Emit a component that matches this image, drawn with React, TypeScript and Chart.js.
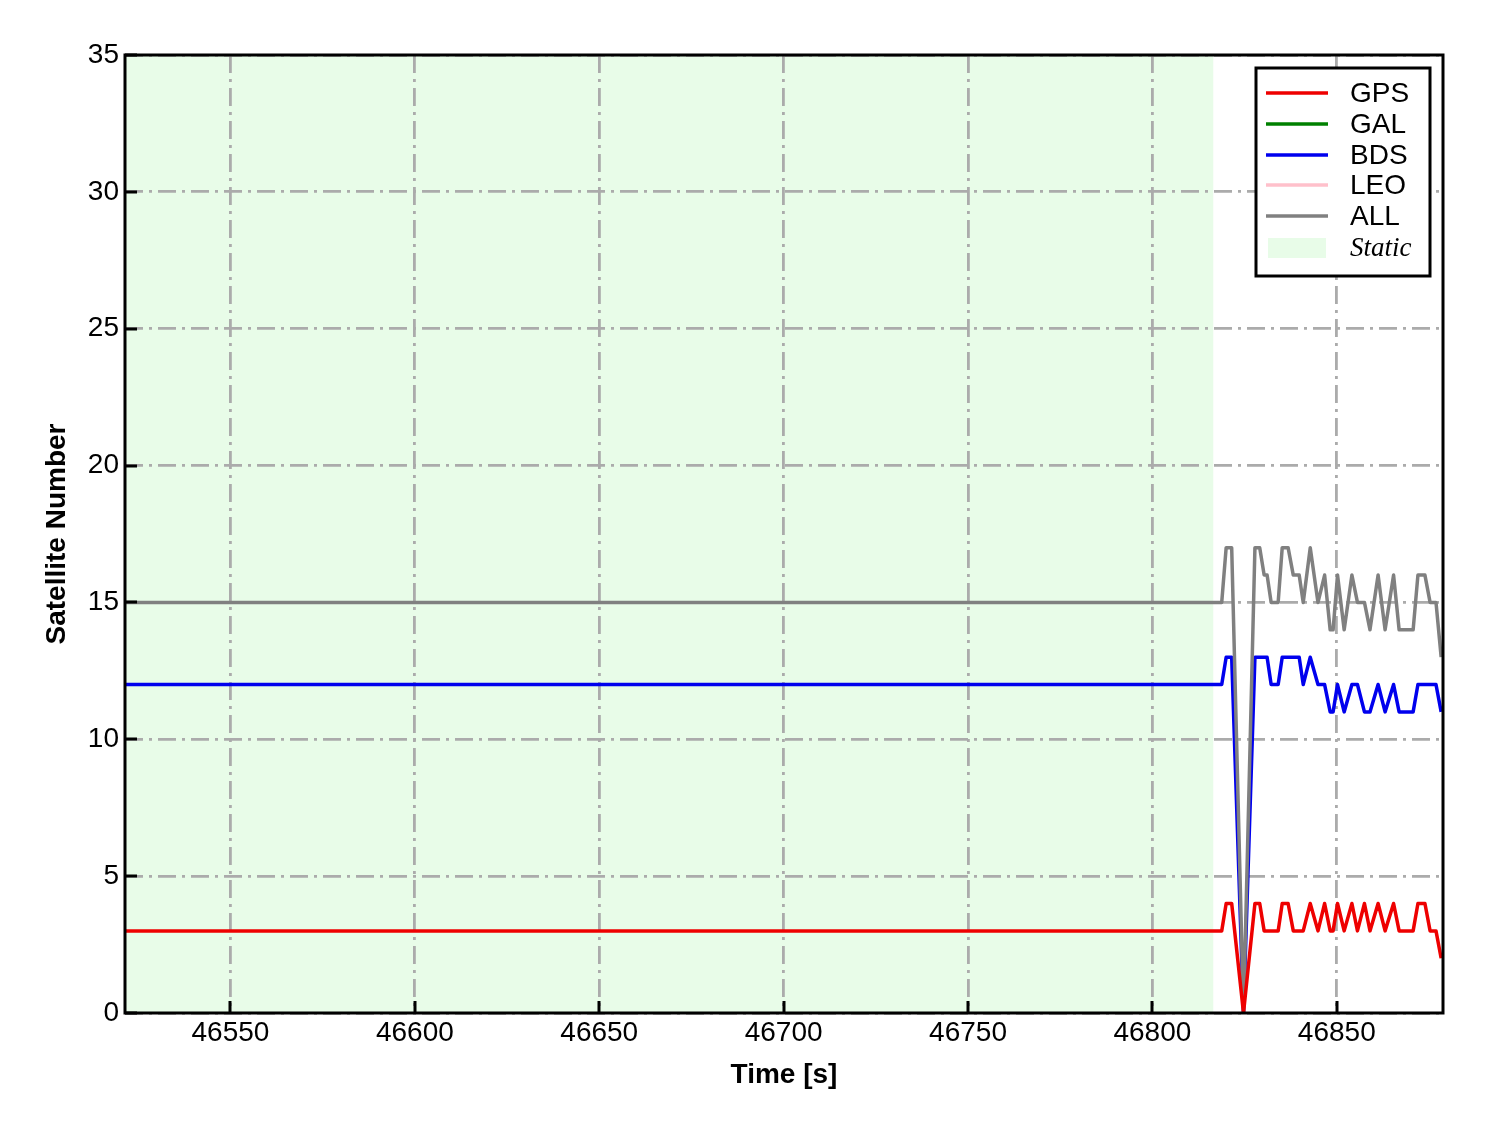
import React, { useEffect, useRef } from "react";
import { Chart, registerables } from "chart.js";

Chart.register(...registerables);

// ---- axis / tick data ----
const X_MIN = 46521.4;
const X_MAX = 46878.8;
const X_TICKS = [46550, 46600, 46650, 46700, 46750, 46800, 46850];
const Y_MIN = 0;
const Y_MAX = 35;
const Y_TICKS = [0, 5, 10, 15, 20, 25, 30, 35];

// ---- static period ----
const STATIC_START = 46521.4;
const STATIC_END = 46816.5;

// ---- series (time [s] and satellite counts) ----
const TIMES = [
  46521.4, 46818.8, 46820.0, 46821.5, 46824.7, 46827.8, 46829.1, 46830.3, 46831.1,
  46832.2, 46834.1, 46835.2, 46836.8, 46838.2, 46839.8, 46840.9, 46842.8, 46844.9,
  46846.7, 46848.2, 46849.0, 46850.2, 46852.0, 46854.1, 46855.6, 46857.5, 46859.0,
  46861.2, 46863.1, 46865.4, 46866.9, 46870.7, 46872.0, 46873.9, 46875.3, 46876.9,
  46878.3,
];
const GPS_VALUES = [
  3, 3, 4, 4, 0, 4, 4, 3, 3,
  3, 3, 4, 4, 3, 3, 3, 4, 3,
  4, 3, 3, 4, 3, 4, 3, 4, 3,
  4, 3, 4, 3, 3, 4, 4, 3, 3,
  2,
];
const GAL_VALUES: number[] = [];
const BDS_VALUES = [
  12, 12, 13, 13, 0, 13, 13, 13, 13,
  12, 12, 13, 13, 13, 13, 12, 13, 12,
  12, 11, 11, 12, 11, 12, 12, 11, 11,
  12, 11, 12, 11, 11, 12, 12, 12, 12,
  11,
];
const LEO_VALUES: number[] = [];
const ALL_VALUES = [
  15, 15, 17, 17, 0, 17, 17, 16, 16,
  15, 15, 17, 17, 16, 16, 15, 17, 15,
  16, 14, 14, 16, 14, 16, 15, 15, 14,
  16, 14, 16, 14, 14, 16, 16, 15, 15,
  13,
];

const SERIES_NAMES = ["GPS", "GAL", "BDS", "LEO", "ALL"];
const SERIES_COLORS = ["#ee0000", "#008000", "#0000ee", "#ffc0cb", "#808080"];
const STATIC_LABEL = "Static";
const STATIC_COLOR = "#e8fce8";

const toPoints = (vals: number[]) => vals.map((v, i) => ({ x: TIMES[i], y: v }));

const SANS = "'Liberation Sans', Arial, sans-serif";
const SERIF = "'Liberation Serif', 'Times New Roman', serif";

const decorPlugin = {
  id: "decor",
  beforeDraw(chart: any) {
    const { ctx, chartArea: ca, scales } = chart;
    const xs = scales.x;
    ctx.save();
    ctx.fillStyle = STATIC_COLOR;
    const x0 = Math.max(ca.left, xs.getPixelForValue(STATIC_START));
    const x1 = Math.min(ca.right, xs.getPixelForValue(STATIC_END));
    ctx.fillRect(x0, ca.top, x1 - x0, ca.bottom - ca.top);
    ctx.restore();
  },
  afterDraw(chart: any) {
    const { ctx, chartArea: ca, scales } = chart;
    const xs = scales.x;
    const ys = scales.y;
    ctx.save();
    // inward ticks
    ctx.strokeStyle = "#000";
    ctx.lineWidth = 3;
    ctx.beginPath();
    X_TICKS.forEach((t) => {
      const px = Math.round(xs.getPixelForValue(t));
      ctx.moveTo(px, ca.bottom);
      ctx.lineTo(px, ca.bottom - 12);
    });
    Y_TICKS.forEach((t) => {
      const py = Math.round(ys.getPixelForValue(t));
      ctx.moveTo(ca.left, py);
      ctx.lineTo(ca.left + 12, py);
    });
    ctx.stroke();
    // frame
    ctx.lineWidth = 3;
    ctx.strokeRect(ca.left, ca.top, ca.right - ca.left, ca.bottom - ca.top);

    // legend
    const bw = 174;
    const bh = 208;
    const bx = ca.right - 13 - bw;
    const by = ca.top + 13;
    ctx.fillStyle = "#fff";
    ctx.fillRect(bx, by, bw, bh);
    ctx.strokeStyle = "#000";
    ctx.lineWidth = 3;
    ctx.strokeRect(bx, by, bw, bh);
    const rows = [25, 56, 87, 117, 148];
    ctx.textBaseline = "middle";
    ctx.textAlign = "left";
    SERIES_NAMES.forEach((name, i) => {
      const y = by + rows[i];
      ctx.strokeStyle = SERIES_COLORS[i];
      ctx.lineWidth = 3.5;
      ctx.beginPath();
      ctx.moveTo(bx + 10, y);
      ctx.lineTo(bx + 72, y);
      ctx.stroke();
      ctx.fillStyle = "#000";
      ctx.font = `28px ${SANS}`;
      ctx.fillText(name, bx + 94, y + 1);
    });
    ctx.fillStyle = STATIC_COLOR;
    ctx.fillRect(bx + 12, by + 170, 58, 20);
    ctx.fillStyle = "#000";
    ctx.font = `italic 27px ${SERIF}`;
    ctx.fillText(STATIC_LABEL, bx + 94, by + 181);
    ctx.restore();
  },
};

export default function App() {
  const ref = useRef<HTMLCanvasElement | null>(null);
  useEffect(() => {
    if (!ref.current) return;
    const valueSets = [GPS_VALUES, GAL_VALUES, BDS_VALUES, LEO_VALUES, ALL_VALUES];
    const orders = [0, 3, 2, 4, 1];
    const chart = new Chart(ref.current, {
      type: "line",
      data: {
        datasets: SERIES_NAMES.map((name, i) => ({
          label: name,
          data: toPoints(valueSets[i]),
          borderColor: SERIES_COLORS[i],
          backgroundColor: SERIES_COLORS[i],
          borderWidth: 3.5,
          pointRadius: 0,
          tension: 0,
          fill: false,
          borderJoinStyle: "round" as const,
          order: orders[i],
        })),
      },
      options: {
        animation: false,
        responsive: false,
        devicePixelRatio: 1,
        layout: { padding: { left: 0, top: 47, right: 37, bottom: 0 } },
        plugins: {
          legend: { display: false },
          tooltip: { enabled: false },
          title: { display: false },
        },
        scales: {
          x: {
            type: "linear",
            min: X_MIN,
            max: X_MAX,
            afterBuildTicks: (s: any) => {
              s.ticks = X_TICKS.map((v) => ({ value: v }));
            },
            afterFit: (s: any) => {
              s.height = 112;
            },
            ticks: {
              autoSkip: false,
              maxRotation: 0,
              padding: 3,
              color: "#000",
              font: { family: SANS, size: 28 },
              callback: (v: any) => String(v),
            },
            grid: {
              display: true,
              drawTicks: false,
              color: "#ababab",
              lineWidth: 2.8,
            },
            border: { display: false, dash: [18, 6, 3, 6] },
            title: {
              display: true,
              text: "Time [s]",
              color: "#000",
              font: { family: SANS, size: 28, weight: "bold" },
              padding: { top: 0, bottom: 33 },
            },
          },
          y: {
            type: "linear",
            min: Y_MIN,
            max: Y_MAX,
            afterBuildTicks: (s: any) => {
              s.ticks = Y_TICKS.map((v) => ({ value: v }));
            },
            afterFit: (s: any) => {
              s.width = 117;
            },
            ticks: {
              autoSkip: false,
              padding: 6,
              color: "#000",
              font: { family: SANS, size: 28 },
              callback: (v: any) => String(v),
            },
            grid: {
              display: true,
              drawTicks: false,
              color: "#ababab",
              lineWidth: 2.8,
            },
            border: { display: false, dash: [18, 6, 3, 6] },
            title: {
              display: true,
              text: "Satellite Number",
              color: "#000",
              font: { family: SANS, size: 28, weight: "bold" },
              padding: { top: 32, bottom: 0 },
            },
          },
        },
      },
      plugins: [decorPlugin],
    });
    return () => chart.destroy();
  }, []);
  return (
    <div style={{ width: 1472, height: 1117 }}>
      <canvas ref={ref} width={1472} height={1117} style={{ display: "block" }} />
    </div>
  );
}
